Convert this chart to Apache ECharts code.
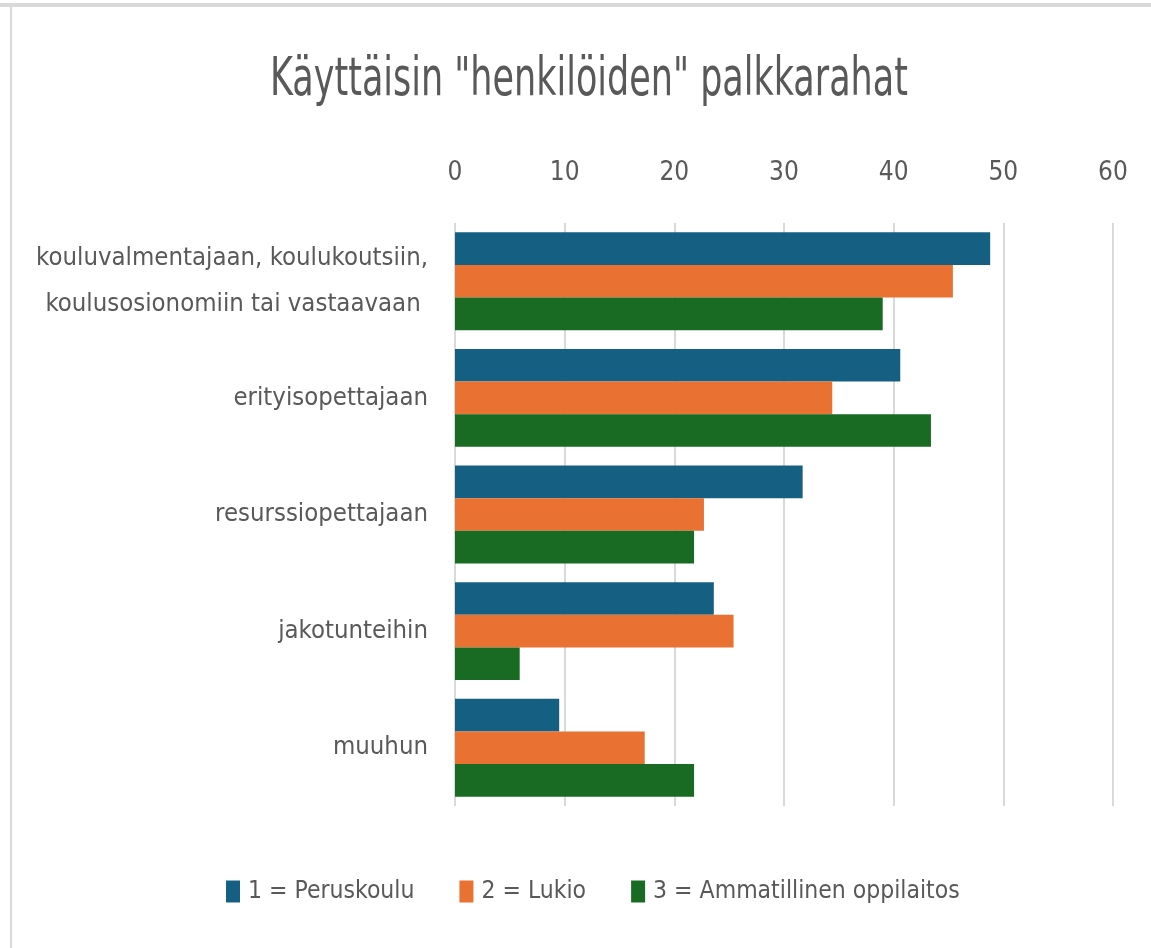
<!DOCTYPE html>
<html>
<head>
<meta charset="utf-8">
<script src="https://cdn.jsdelivr.net/npm/echarts@6/dist/echarts.min.js"></script>
<style>
  html, body { margin: 0; padding: 0; background: #fff; }
  #chart { width: 1151px; height: 948px; }
</style>
</head>
<body>
<div id="chart"></div>
<script>
let categories = [
  'kouluvalmentajaan, koulukoutsiin,\nkoulusosionomiin tai vastaavaan ',
  'erityisopettajaan',
  'resurssiopettajaan',
  'jakotunteihin',
  'muuhun',
]
let seriesNames = ['1 = Peruskoulu', '2 = Lukio', '3 = Ammatillinen oppilaitos']
let peruskoulu = [48.8, 40.6, 31.7, 23.6, 9.5]
let lukio = [45.4, 34.4, 22.7, 25.4, 17.3]
let ammatillinen = [39.0, 43.4, 21.8, 5.9, 21.8]
let xTicks = [0, 10, 20, 30, 40, 50, 60]

let colors = ['#156082', '#E97132', '#196B24']
let font = "'Liberation Sans Narrow', 'DejaVu Sans Condensed', 'Roboto', sans-serif"
let textColor = '#595959'

let chart = echarts.init(document.getElementById('chart'))

let option = {
  animation: false,
  textStyle: { fontFamily: font },
  legend: {
    bottom: 39,
    left: 221,
    itemWidth: 14,
    itemHeight: 22,
    itemGap: 45,
    icon: 'rect',
    textStyle: { fontFamily: font, fontSize: 24.5, color: textColor, padding: [0, 0, 0, 3] },
    data: seriesNames,
  },
  grid: {
    left: 455,
    right: 38,
    top: 223,
    bottom: 142,
    containLabel: false,
  },
  xAxis: {
    type: 'value',
    position: 'top',
    min: xTicks[0],
    max: xTicks[xTicks.length - 1],
    interval: 10,
    axisLine: { show: false },
    axisTick: { show: false },
    axisLabel: {
      margin: 37,
      fontFamily: font,
      fontSize: 26,
      color: textColor,
    },
    splitLine: { lineStyle: { color: '#d9d9d9', width: 2 } },
  },
  yAxis: {
    type: 'category',
    inverse: true,
    data: categories,
    axisLine: { show: false },
    axisTick: { show: false },
    axisLabel: {
      margin: 27,
      fontFamily: font,
      fontSize: 25.5,
      lineHeight: 46,
      color: textColor,
    },
  },
  graphic: [
    { type: 'line', shape: { x1: 0, y1: 5, x2: 1151, y2: 5 }, style: { stroke: '#d9d9d9', lineWidth: 4 } },
    { type: 'line', shape: { x1: 11, y1: 5, x2: 11, y2: 948 }, style: { stroke: '#d9d9d9', lineWidth: 2 } },
    {
      // chart title, squeezed to the narrow look of the original font
      type: 'text',
      x: 589,
      y: 81,
      scaleX: 0.72,
      style: {
        text: 'Käyttäisin "henkilöiden" palkkarahat',
        fontFamily: font,
        fontSize: 54,
        fill: textColor,
        align: 'center',
        verticalAlign: 'middle',
      },
    },
  ],
  series: [peruskoulu, lukio, ammatillinen].map((values, i) => ({
    name: seriesNames[i],
    type: 'bar',
    data: values,
    barGap: '0%',
    barCategoryGap: '16%',
    itemStyle: { color: colors[i] },
  })),
}

chart.setOption(option)
</script>
</body>
</html>
